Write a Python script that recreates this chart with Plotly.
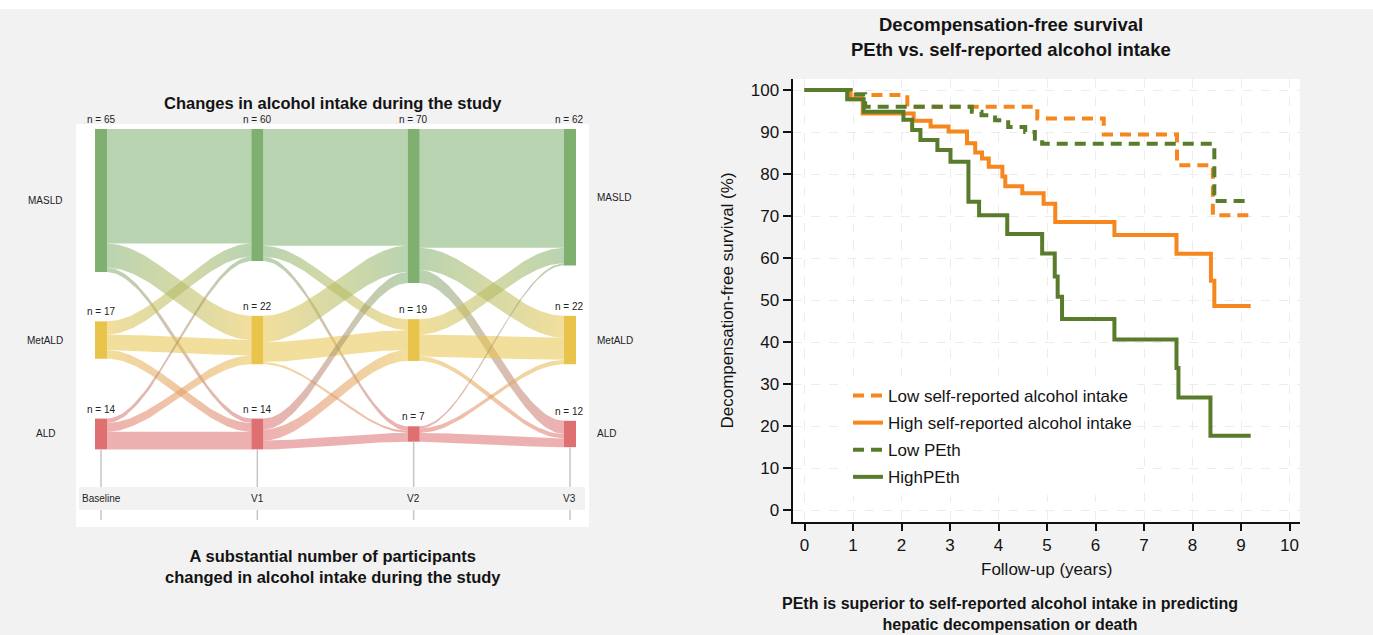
import numpy as np
import plotly.graph_objects as go

# ---------------- data: left panel (alluvial of alcohol-intake categories) ----------------
categories = ["MASLD", "MetALD", "ALD"]
timepoints = ["Baseline", "V1", "V2", "V3"]
n_baseline = [65, 17, 14]
n_v1 = [60, 22, 14]
n_v2 = [70, 19, 7]
n_v3 = [62, 22, 12]
# rows = source category, columns = target category
flow_baseline_v1 = [[52, 11, 2], [6, 7, 4], [2, 4, 8]]
flow_v1_v2 = [[53, 5, 2], [12, 9, 1], [5, 5, 4]]
flow_v2_v3 = [[54, 10, 6], [7, 10, 2], [1, 2, 4]]

# ---------------- data: right panel (Kaplan-Meier curves, step points) ----------------
km_time_low_self = [0, 0.94, 2.12, 4.80, 6.17, 7.68, 8.42, 9.20]
km_surv_low_self = [100, 98.8, 96.0, 93.2, 89.4, 82.1, 70.2, 70.2]
km_time_high_self = [0, 0.95, 1.20, 2.25, 2.60, 2.97, 3.35, 3.52, 3.66, 3.80, 4.08, 4.14,
                     4.49, 4.93, 5.17, 6.39, 7.67, 8.38, 8.45, 9.20]
km_surv_high_self = [100, 97.8, 94.4, 92.7, 91.3, 90.1, 87.3, 85.1, 83.7, 81.7, 79.4, 77.1,
                     75.4, 72.9, 68.6, 65.5, 61.0, 54.6, 48.6, 48.6]
km_time_low_peth = [0, 0.95, 1.25, 3.45, 3.65, 3.93, 4.20, 4.55, 4.75, 4.90, 8.45, 9.20]
km_surv_low_peth = [100, 99.0, 96.0, 94.8, 94.0, 92.8, 91.2, 90.0, 88.4, 87.2, 73.6, 73.6]
km_time_high_peth = [0, 0.88, 1.22, 2.04, 2.22, 2.39, 2.74, 3.01, 3.38, 3.60, 4.18, 4.90,
                     5.16, 5.22, 5.31, 6.39, 7.67, 7.71, 8.37, 9.20]
km_surv_high_peth = [100, 97.8, 94.8, 92.9, 90.5, 88.1, 85.7, 82.9, 73.4, 70.2, 65.7, 61.1,
                     55.6, 50.8, 45.5, 40.6, 33.8, 26.8, 17.7, 17.7]
km_legend = ["Low self-reported alcohol intake", "High self-reported alcohol intake",
             "Low PEth", "HighPEth"]

# ---------------- layout constants ----------------
W, H = 1373, 635
FONT = "Liberation Sans, Arial, Helvetica, sans-serif"
TXT = "#141414"

# left panel geometry (pixels)
BOX_L, BOX_R, BOX_T, BOX_B = 76, 589, 124, 527
COL0_PX, COL_STEP = 101, 156.33
PX_PER_UNIT = 2.2
NODE_W = 12 / COL_STEP
MASLD_TOP = 2.3
BAND_CENTERS = {1: 98.2, 2: 140.9}
STRIP_TOP = (487 - BOX_T) / PX_PER_UNIT
STRIP_BOT = (510 - BOX_T) / PX_PER_UNIT
TICK_END = (520 - BOX_T) / PX_PER_UNIT

node_colors = ["#7fb070", "#e8c44b", "#df7071"]
node_rgb = [(127, 176, 112), (232, 196, 75), (223, 112, 113)]
RIBBON_ALPHA = 0.55


def rgba(rgb, a):
    return "rgba(%d,%d,%d,%.2f)" % (rgb[0], rgb[1], rgb[2], a)


def node_tops(counts):
    return [MASLD_TOP,
            BAND_CENTERS[1] - counts[1] / 2.0,
            BAND_CENTERS[2] - counts[2] / 2.0]


def unit_to_paper_y(u):
    return 1 - (BOX_T + PX_PER_UNIT * u) / H


node_counts = [n_baseline, n_v1, n_v2, n_v3]
flows = [flow_baseline_v1, flow_v1_v2, flow_v2_v3]
tops = [node_tops(c) for c in node_counts]

fig = go.Figure()

# ribbons
tau = np.linspace(0, 1, 60)
smooth = tau * tau * (3 - 2 * tau)
hw = NODE_W / 2
for c, F in enumerate(flows):
    F = np.array(F, dtype=float)
    for s in range(3):
        for t in range(3):
            v = F[s, t]
            if v <= 0:
                continue
            sy = tops[c][s] + F[s, :t].sum()
            ty = tops[c + 1][t] + F[:s, t].sum()
            xs = c + hw + (1 - 2 * hw) * tau
            upper = sy + (ty - sy) * smooth
            lower = upper + v
            fig.add_trace(go.Scatter(
                x=np.concatenate([xs, xs[::-1]]),
                y=np.concatenate([upper, lower[::-1]]),
                mode="lines", line=dict(width=0), fill="toself",
                fillcolor=rgba(node_rgb[s], RIBBON_ALPHA),
                fillgradient=dict(type="horizontal",
                                  colorscale=[[0, rgba(node_rgb[s], RIBBON_ALPHA)],
                                              [1, rgba(node_rgb[t], RIBBON_ALPHA)]]),
                hoverinfo="skip", showlegend=False, xaxis="x", yaxis="y"))

# drop lines below the last node of each column
dl_x, dl_y = [], []
for c in range(len(timepoints)):
    bottom = tops[c][2] + node_counts[c][2]
    dl_x += [c, c, None, c, c, None]
    dl_y += [bottom, STRIP_TOP, None, STRIP_BOT, TICK_END, None]
fig.add_trace(go.Scatter(x=dl_x, y=dl_y, mode="lines",
                         line=dict(color="#c6c6c6", width=1.5),
                         hoverinfo="skip", showlegend=False, xaxis="x", yaxis="y"))

# nodes
for k, cat in enumerate(categories):
    fig.add_trace(go.Bar(
        x=list(range(len(timepoints))),
        y=[node_counts[c][k] for c in range(len(timepoints))],
        base=[tops[c][k] for c in range(len(timepoints))],
        width=NODE_W, marker=dict(color=node_colors[k], line=dict(width=0)),
        hoverinfo="skip", showlegend=False, xaxis="x", yaxis="y"))

annotations = []
for c, tp in enumerate(timepoints):
    for k in range(3):
        annotations.append(dict(
            x=c, y=tops[c][k], xref="x", yref="y", xanchor="center", yanchor="bottom",
            yshift=2, text="n = %d" % node_counts[c][k], showarrow=False,
            font=dict(family=FONT, size=10, color="#222")))
    annotations.append(dict(
        x=c, y=(STRIP_TOP + STRIP_BOT) / 2, xref="x", yref="y", xanchor="center",
        yanchor="middle", text=tp, showarrow=False,
        font=dict(family=FONT, size=10, color="#222")))

# category labels left of the first column and right of the last column
for k, cat in enumerate(categories):
    annotations.append(dict(x=45 / W, y=unit_to_paper_y(tops[0][k] + n_baseline[k] / 2),
                            xref="paper", yref="paper", text=cat, showarrow=False,
                            xanchor="center", yanchor="middle",
                            font=dict(family=FONT, size=10, color="#222")))
    annotations.append(dict(x=595 / W, y=unit_to_paper_y(tops[3][k] + n_v3[k] / 2),
                            xref="paper", yref="paper", text=cat, showarrow=False,
                            xanchor="left", yanchor="middle",
                            font=dict(family=FONT, size=10, color="#222")))

shapes = [
    dict(type="rect", xref="paper", yref="paper", x0=0, x1=1, y0=1 - 9 / H, y1=1,
         fillcolor="white", line=dict(width=0), layer="below"),
    dict(type="rect", xref="x", yref="y",
         x0=(79 - COL0_PX) / COL_STEP, x1=(585 - COL0_PX) / COL_STEP,
         y0=STRIP_TOP, y1=STRIP_BOT, fillcolor="#f2f2f2", line=dict(width=0), layer="below"),
]

# ---------------- right panel: KM curves ----------------
ORANGE = "#f6871f"
GREEN = "#587c2c"
km_series = [
    (km_time_low_self, km_surv_low_self, ORANGE, "11px,7px"),
    (km_time_high_self, km_surv_high_self, ORANGE, "solid"),
    (km_time_low_peth, km_surv_low_peth, GREEN, "11px,7px"),
    (km_time_high_peth, km_surv_high_peth, GREEN, "solid"),
]
for i, (tt, ss, col, dash) in enumerate(km_series):
    fig.add_trace(go.Scatter(
        x=tt, y=ss, mode="lines", line=dict(color=col, width=4, dash=dash, shape="hv"),
        name=km_legend[i], legendgroup="g%d" % i, xaxis="x2", yaxis="y2"))


def note(x_px, y_px, text, size, angle=0):
    return dict(x=x_px / W, y=1 - y_px / H, xref="paper", yref="paper", text=text,
                showarrow=False, xanchor="center", yanchor="middle", textangle=angle,
                font=dict(family=FONT, size=size, color=TXT))


annotations += [
    note(332.5, 103, "<b>Changes in alcohol intake during the study</b>", 16.5),
    note(332.5, 566, "<b>A substantial number of participants<br>"
                     "changed in alcohol intake during the study</b>", 16.5),
    note(1010.5, 24, "<b>Decompensation-free survival</b>", 18.5),
    note(1010.5, 50, "<b>PEth vs. self-reported alcohol intake</b>", 18.5),
    note(1010, 614, "<b>PEth is superior to self-reported alcohol intake in predicting<br>"
                    "hepatic decompensation or death</b>", 16),
    note(727, 300.5, "Decompensation-free survival (%)", 17, -90),
    note(1046, 569, "Follow-up (years)", 17),
]

# right plot geometry
R_L, R_R, R_T, R_B = 792.5, 1300, 79, 522
X0_PX, X_PER = 804.5, 48.5
Y0_PX, Y_PER = 510, 4.2

fig.update_layout(
    width=W, height=H, margin=dict(l=0, r=0, t=0, b=0),
    paper_bgcolor="#f2f2f2", plot_bgcolor="white",
    barmode="overlay", showlegend=True,
    font=dict(family=FONT, color=TXT),
    xaxis=dict(domain=[BOX_L / W, BOX_R / W],
               range=[(BOX_L - COL0_PX) / COL_STEP, (BOX_R - COL0_PX) / COL_STEP],
               visible=False, fixedrange=True),
    yaxis=dict(domain=[1 - BOX_B / H, 1 - BOX_T / H],
               range=[(BOX_B - BOX_T) / PX_PER_UNIT, 0],
               visible=False, fixedrange=True),
    xaxis2=dict(domain=[R_L / W, R_R / W], anchor="y2",
                range=[(R_L - X0_PX) / X_PER, (R_R - X0_PX) / X_PER],
                tickvals=list(range(0, 11)), ticks="outside", ticklen=7, tickwidth=1.5,
                tickcolor="#111", showline=True, linecolor="#111", linewidth=2,
                showgrid=True, gridcolor="#ececec", griddash="dash", gridwidth=1,
                zeroline=False, tickfont=dict(family=FONT, size=17, color=TXT)),
    yaxis2=dict(domain=[1 - R_B / H, 1 - R_T / H], anchor="x2",
                range=[(Y0_PX - R_B) / Y_PER, (Y0_PX - R_T) / Y_PER],
                tickvals=list(range(0, 101, 10)), ticks="outside", ticklen=8, tickwidth=1.5,
                tickcolor="#111", showline=True, linecolor="#111", linewidth=2,
                showgrid=True, gridcolor="#ececec", griddash="dash", gridwidth=1,
                zeroline=False, tickfont=dict(family=FONT, size=17, color=TXT)),
    legend=dict(x=848 / W, y=1 - 378 / H, xanchor="left", yanchor="top",
                bgcolor="white", borderwidth=0, tracegroupgap=2,
                font=dict(family=FONT, size=17, color=TXT)),
    annotations=annotations, shapes=shapes,
)

fig.write_html("out.html")
